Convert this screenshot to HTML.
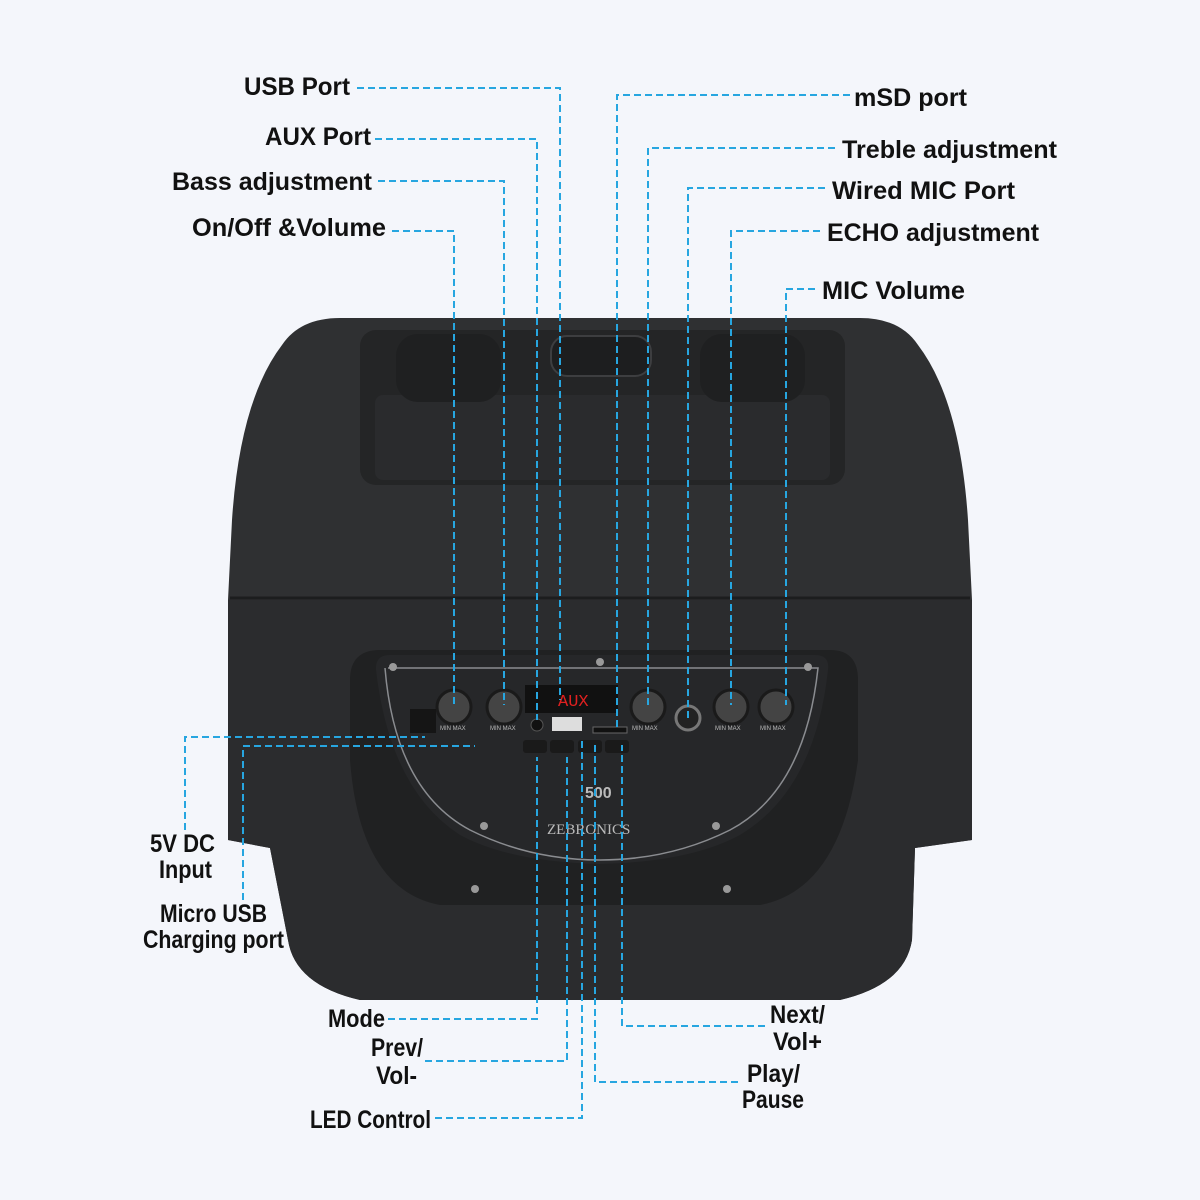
<!DOCTYPE html>
<html><head><meta charset="utf-8"><style>
html,body{margin:0;padding:0;background:#f4f6fb;}
svg{display:block}
text{font-family:"Liberation Sans",sans-serif;font-size:25px;fill:#111;font-weight:bold;}
.l{stroke:#27a6e0;stroke-width:2;stroke-dasharray:7 4;fill:none}
.s{font-size:6px;fill:#bbb;font-weight:normal}
</style></head><body>
<svg width="1200" height="1200" viewBox="0 0 1200 1200" xmlns="http://www.w3.org/2000/svg">
<rect width="1200" height="1200" fill="#f4f6fb"/>
<!-- body -->
<path d="M340,318 L860,318 Q900,318 918,345 Q960,400 968,520 L972,600 L972,840 L915,848 L912,940 Q905,985 840,1000 L360,1000 Q295,985 288,940 L270,848 L228,840 L228,600 L232,520 Q240,400 282,345 Q300,318 340,318 Z" fill="#2f3032"/>
<path d="M228,600 L972,600 L972,840 L915,848 L912,940 Q905,985 840,1000 L360,1000 Q295,985 288,940 L270,848 L228,840 Z" fill="#2b2c2e"/>
<line x1="230" y1="598" x2="970" y2="598" stroke="#1c1d1e" stroke-width="3"/>
<!-- handle cutout -->
<rect x="360" y="330" width="485" height="155" rx="16" fill="#242526"/>
<rect x="375" y="395" width="455" height="85" rx="8" fill="#2a2b2d"/>
<rect x="396" y="334" width="105" height="68" rx="22" fill="#1f2021"/>
<rect x="700" y="334" width="105" height="68" rx="22" fill="#1f2021"/>
<rect x="551" y="336" width="100" height="40" rx="16" fill="#1d1e1f" stroke="#3d3e40" stroke-width="2"/>
<!-- recess -->
<path d="M380,650 L830,650 Q858,650 858,680 L858,760 Q840,890 760,905 L440,905 Q360,890 350,760 L350,680 Q350,650 380,650 Z" fill="#202122"/>
<path d="M390,655 L815,655 Q830,655 828,670 Q815,790 740,835 Q690,862 600,864 Q510,862 460,835 Q390,790 376,670 Q375,655 390,655 Z" fill="#262729"/>
<path d="M385,668 Q395,790 470,830 Q530,860 600,860 Q670,860 730,830 Q805,790 818,668 L388,668" fill="none" stroke="#8a8c90" stroke-width="1.5"/>
<!-- screws -->
<g fill="#999"><circle cx="393" cy="667" r="4"/><circle cx="600" cy="662" r="4"/><circle cx="808" cy="667" r="4"/><circle cx="484" cy="826" r="4"/><circle cx="716" cy="826" r="4"/><circle cx="475" cy="889" r="4"/><circle cx="727" cy="889" r="4"/></g>
<!-- display -->
<rect x="525" y="685" width="93" height="28" fill="#111"/>
<text x="558" y="706" style="font-size:17px;fill:#e02020;font-family:'Liberation Mono',monospace;font-weight:normal">AUX</text>
<!-- knobs -->
<g fill="#444" stroke="#1a1a1a" stroke-width="3">
<circle cx="454" cy="707" r="17"/><circle cx="504" cy="707" r="17"/><circle cx="648" cy="707" r="17"/><circle cx="731" cy="707" r="17"/><circle cx="776" cy="707" r="17"/>
</g>
<circle cx="688" cy="718" r="12" fill="#222" stroke="#777" stroke-width="3"/>
<rect x="410" y="709" width="26" height="24" fill="#151515"/>
<rect x="552" y="717" width="30" height="14" fill="#ddd"/>
<circle cx="537" cy="725" r="6" fill="#111" stroke="#555"/>
<rect x="593" y="727" width="34" height="6" fill="#111" stroke="#666"/>
<g fill="#1a1a1a"><rect x="523" y="740" width="24" height="13" rx="3"/><rect x="550" y="740" width="24" height="13" rx="3"/><rect x="578" y="740" width="24" height="13" rx="3"/><rect x="605" y="740" width="24" height="13" rx="3"/></g>
<text x="440" y="730" class="s">MIN  MAX</text><text x="490" y="730" class="s">MIN  MAX</text><text x="632" y="730" class="s">MIN  MAX</text><text x="715" y="730" class="s">MIN  MAX</text><text x="760" y="730" class="s">MIN  MAX</text>
<text x="585" y="798" style="font-size:16px;fill:#bbb">500</text>
<text x="547" y="834" style="font-size:15px;fill:#bbb;font-family:'Liberation Serif',serif;font-weight:normal">ZEBRONICS</text>
<!-- leader lines -->
<path class="l" d="M357,88 H560 V700"/>
<path class="l" d="M375,139 H537 V720"/>
<path class="l" d="M378,181 H504 V705"/>
<path class="l" d="M392,231 H454 V705"/>
<path class="l" d="M850,95 H617 V730"/>
<path class="l" d="M835,148 H648 V705"/>
<path class="l" d="M825,188 H688 V720"/>
<path class="l" d="M820,231 H731 V705"/>
<path class="l" d="M815,289 H786 V705"/>
<path class="l" d="M185,830 V737 H425"/>
<path class="l" d="M243,900 V746 H475"/>
<path class="l" d="M388,1019 H537 V757"/>
<path class="l" d="M425,1061 H567 V757"/>
<path class="l" d="M435,1118 H582 V740"/>
<path class="l" d="M765,1026 H622 V745"/>
<path class="l" d="M738,1082 H595 V745"/>
<!-- labels -->
<g lengthAdjust="spacingAndGlyphs">
<text x="244" y="95" textLength="106" lengthAdjust="spacingAndGlyphs">USB Port</text>
<text x="265" y="145" textLength="106" lengthAdjust="spacingAndGlyphs">AUX Port</text>
<text x="172" y="190" textLength="200" lengthAdjust="spacingAndGlyphs">Bass adjustment</text>
<text x="192" y="236" textLength="194" lengthAdjust="spacingAndGlyphs">On/Off &amp;Volume</text>
<text x="854" y="106" textLength="113" lengthAdjust="spacingAndGlyphs">mSD port</text>
<text x="842" y="158" textLength="215" lengthAdjust="spacingAndGlyphs">Treble adjustment</text>
<text x="832" y="199" textLength="183" lengthAdjust="spacingAndGlyphs">Wired MIC Port</text>
<text x="827" y="241" textLength="212" lengthAdjust="spacingAndGlyphs">ECHO adjustment</text>
<text x="822" y="299" textLength="143" lengthAdjust="spacingAndGlyphs">MIC Volume</text>
<text x="150" y="852" textLength="65" lengthAdjust="spacingAndGlyphs">5V DC</text>
<text x="159" y="878" textLength="53" lengthAdjust="spacingAndGlyphs">Input</text>
<text x="160" y="922" textLength="107" lengthAdjust="spacingAndGlyphs">Micro USB</text>
<text x="143" y="948" textLength="141" lengthAdjust="spacingAndGlyphs">Charging port</text>
<text x="328" y="1027" textLength="57" lengthAdjust="spacingAndGlyphs">Mode</text>
<text x="371" y="1056" textLength="52" lengthAdjust="spacingAndGlyphs">Prev/</text>
<text x="376" y="1084" textLength="41" lengthAdjust="spacingAndGlyphs">Vol-</text>
<text x="310" y="1128" textLength="121" lengthAdjust="spacingAndGlyphs">LED Control</text>
<text x="770" y="1023" textLength="55" lengthAdjust="spacingAndGlyphs">Next/</text>
<text x="773" y="1050" textLength="49" lengthAdjust="spacingAndGlyphs">Vol+</text>
<text x="747" y="1082" textLength="53" lengthAdjust="spacingAndGlyphs">Play/</text>
<text x="742" y="1108" textLength="62" lengthAdjust="spacingAndGlyphs">Pause</text>
</g>
</svg>
</body></html>
